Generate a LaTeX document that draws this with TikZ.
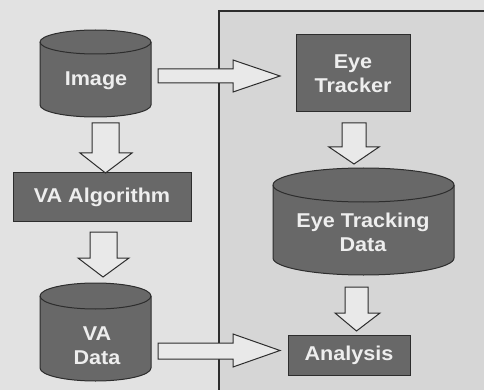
\documentclass[tikz,border=0pt]{standalone}
\usepackage{fontspec}
\setmainfont[FakeStretch=1.08]{Liberation Sans}
\usetikzlibrary{calc}
\definecolor{bgL}{RGB}{226,226,226}
\definecolor{bgR}{RGB}{214,214,214}
\definecolor{nfill}{RGB}{104,104,104}
\definecolor{nline}{RGB}{45,45,45}
\definecolor{ntext}{RGB}{238,238,238}
\definecolor{afill}{RGB}{233,233,233}
\begin{document}
\begin{tikzpicture}[x=1pt,y=1pt,
  lbl/.style={text=ntext, font=\fontsize{20}{24}\selectfont\bfseries, align=center, inner sep=0pt},
  box/.style={lbl, draw=nline, line width=1pt, fill=nfill},
  cylshape/.style={draw=nline, line width=1pt, fill=nfill},
  blk/.style={draw=nline, line width=1pt, fill=afill, line join=miter}]
\useasboundingbox (0,0) rectangle (484,-390);
\fill[bgL] (0,0) rectangle (484,-390);
% right panel
\filldraw[fill=bgR, draw=nline, line width=1.6pt] (219,-11) rectangle (492,-398);

% cylinders
\path[cylshape] (40,-42) -- (40,-105) arc[start angle=180,end angle=360,x radius=55.5,y radius=12]
  -- (151,-42) arc[start angle=0,end angle=180,x radius=55.5,y radius=12] -- cycle;
\draw[nline, line width=1pt] (151,-42) arc[start angle=0,end angle=-180,x radius=55.5,y radius=12];

\path[cylshape] (40,-296) -- (40,-368) arc[start angle=180,end angle=360,x radius=55.5,y radius=13]
  -- (151,-296) arc[start angle=0,end angle=180,x radius=55.5,y radius=13] -- cycle;
\draw[nline, line width=1pt] (151,-296) arc[start angle=0,end angle=-180,x radius=55.5,y radius=13];

\path[cylshape] (273,-185) -- (273,-258) arc[start angle=180,end angle=360,x radius=90.5,y radius=17]
  -- (454,-185) arc[start angle=0,end angle=180,x radius=90.5,y radius=17] -- cycle;
\draw[nline, line width=1pt] (454,-185) arc[start angle=0,end angle=-180,x radius=90.5,y radius=17];

% nodes
\node[lbl] (img) at (96,-81) {Image};
\node[lbl] (vadata) at (97,-346) {VA\\Data};
\node[lbl] (etd) at (363,-232) {Eye Tracking\\Data};
\node[box, minimum width=114pt, minimum height=77pt] (tracker) at (353,-73.5) {Eye\\Tracker};
\node[box, minimum width=178pt, minimum height=48pt] (alg) at (102,-197) {VA Algorithm};
\node[box, minimum width=122pt, minimum height=40pt] (ana) at (349,-355) {Analysis};

% block arrows
\path[blk] (158,-69) -- (233,-69) -- (233,-60) -- (280,-76) -- (233,-92) -- (233,-83) -- (158,-83) -- cycle;
\path[blk] (158,-343) -- (233,-343) -- (233,-334) -- (280,-350.5) -- (233,-367) -- (233,-359) -- (158,-359) -- cycle;
\path[blk] (92,-123) -- (119,-123) -- (119,-153) -- (132,-153) -- (105.5,-173) -- (80,-153) -- (92,-153) -- cycle;
\path[blk] (90,-232) -- (117,-232) -- (117,-258) -- (129,-258) -- (103,-277) -- (78,-258) -- (90,-258) -- cycle;
\path[blk] (342,-123) -- (366,-123) -- (366,-147) -- (379,-147) -- (354,-164) -- (329,-147) -- (342,-147) -- cycle;
\path[blk] (345,-287) -- (368,-287) -- (368,-313) -- (380,-313) -- (356.5,-331) -- (335,-313) -- (345,-313) -- cycle;
\end{tikzpicture}
\end{document}
